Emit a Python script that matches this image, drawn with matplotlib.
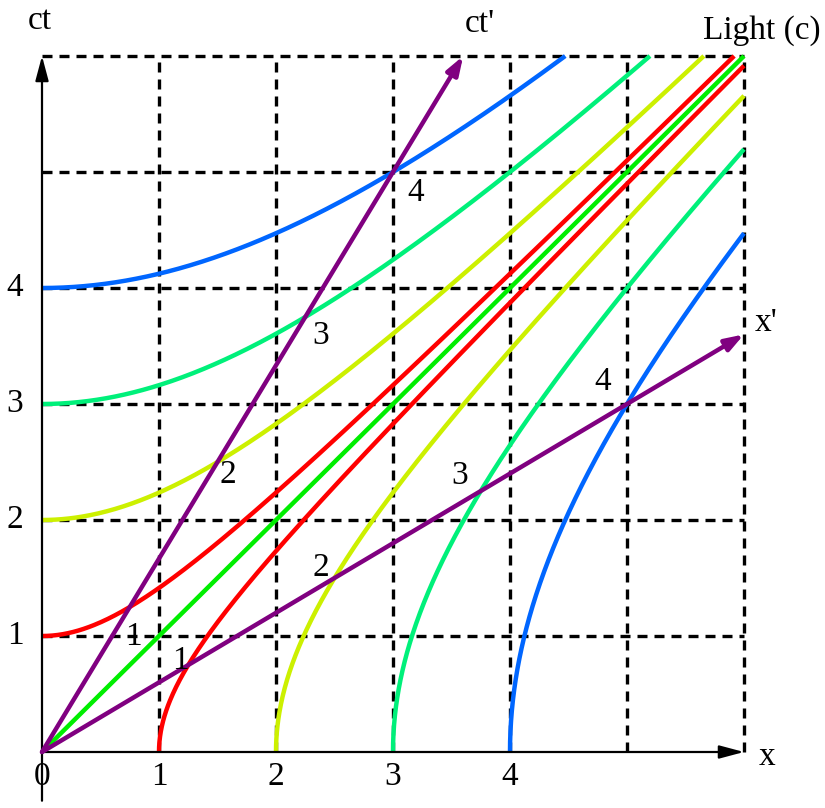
import matplotlib.pyplot as plt
import numpy as np

"""
Minkowski diagram: invariant hyperbolas for intervals 1..4, light line,
and the boosted axes ct' and x' for a frame moving at v = 0.6c.
"""

# invariant intervals and their colours
intervals = [1, 2, 3, 4]
hyp_colors = ["#ff0000", "#ccf000", "#00f07a", "#0066ff"]
light_color = "#00ee00"
boost_color = "#800080"
beta = 0.6          # v/c of moving frame
extent = 6          # grid size
tick_vals = [0, 1, 2, 3, 4]
ytick_vals = [1, 2, 3, 4]

# label offsets (data units) from the calibration points on ct' and x'
ctp_offsets = [(0.03, -0.26), (0.09, -0.11), (0.13, -0.16), (0.19, -0.18)]
xp_offsets = [(-0.07, 0.04), (-0.12, 0.09), (-0.18, 0.13), (-0.21, 0.19)]

plt.rcParams['font.family'] = ['Liberation Serif', 'DejaVu Serif']
fig = plt.figure(figsize=(8.25, 8.08), dpi=100)
ax = fig.add_axes([0, 0, 1, 1])
ax.set_xlim(-42 / 117, 783 / 117)
ax.set_ylim(-56 / 116, 752 / 116)
ax.axis("off")

# dashed grid
for k in range(1, extent + 1):
    ax.plot([k, k], [0, extent], color="black", lw=2.4, ls=(0, (3, 2.1)), zorder=1)
    ax.plot([0, extent], [k, k], color="black", lw=2.4, ls=(0, (3, 2.1)), zorder=1)

# hyperbolas
for a, c in zip(intervals, hyp_colors):
    xs = np.linspace(0, np.sqrt(extent**2 - a**2), 400)
    ys = np.sqrt(xs**2 + a**2)
    ax.plot(xs, ys, color=c, lw=3.2, zorder=3, solid_capstyle="butt")
    ax.plot(ys, xs, color=c, lw=3.2, zorder=3, solid_capstyle="butt")

# light line
ax.plot([0, extent], [0, extent], color=light_color, lw=3.2, zorder=3, solid_capstyle="butt")

# axes
arrow_k = dict(arrowstyle="-|>,head_length=1.5,head_width=0.4", color="black", lw=1.6,
               shrinkA=0, shrinkB=0)
ax.annotate("", xy=(extent, 0), xytext=(0, 0), arrowprops=arrow_k, zorder=4)
ax.annotate("", xy=(0, extent), xytext=(0, -0.42), arrowprops=arrow_k, zorder=4)

# boosted axes
arrow_p = dict(arrowstyle="-|>,head_length=1.1,head_width=0.38", color=boost_color, lw=3.2,
               shrinkA=0, shrinkB=0)
ax.annotate("", xy=(beta * extent, extent), xytext=(0, 0), arrowprops=arrow_p, zorder=5)
ax.annotate("", xy=(extent, beta * extent), xytext=(0, 0), arrowprops=arrow_p, zorder=5)

# calibration labels on ct' and x'
gamma = 1 / np.sqrt(1 - beta**2)
fs = 24
for tau, (dx1, dy1), (dx2, dy2) in zip(intervals, ctp_offsets, xp_offsets):
    ax.text(gamma * beta * tau + dx1, gamma * tau + dy1, str(tau), fontsize=fs,
            ha="center", va="center", zorder=6)
    ax.text(gamma * tau + dx2, gamma * beta * tau + dy2, str(tau), fontsize=fs,
            ha="center", va="center", zorder=6)

# tick labels
for v in tick_vals:
    ax.text(v, -0.21, str(v), fontsize=fs, ha="center", va="center")
for v in ytick_vals:
    ax.text(-0.23, v, str(v), fontsize=fs, ha="center", va="center")

# axis labels
ax.text(-0.02, 6.3, "ct", fontsize=fs, ha="center", va="center")
ax.text(3.74, 6.28, "ct'", fontsize=fs, ha="center", va="center")
ax.text(6.15, 6.22, "Light (c)", fontsize=fs, ha="center", va="center")
ax.text(6.19, 3.7, "x'", fontsize=fs, ha="center", va="center")
ax.text(6.2, -0.04, "x", fontsize=fs, ha="center", va="center")

plt.savefig("out.png", dpi=100)
